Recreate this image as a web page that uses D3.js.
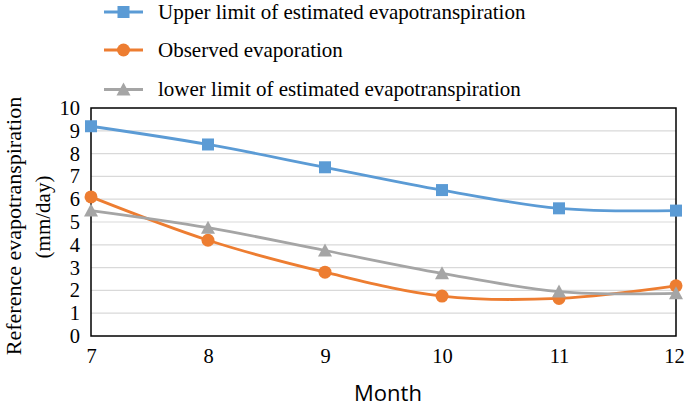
<!DOCTYPE html>
<html>
<head>
<meta charset="utf-8">
<script src="https://cdn.jsdelivr.net/npm/d3@7"></script>
<style>
  html, body { margin: 0; padding: 0; background: #fff; }
  svg { display: block; }
</style>
</head>
<body>
<svg id="chart" width="685" height="409"></svg>
<script>
const months = [7, 8, 9, 10, 11, 12];
const upperLimit = [9.2, 8.4, 7.4, 6.4, 5.6, 5.5];
const observed = [6.1, 4.2, 2.8, 1.75, 1.65, 2.2];
const lowerLimit = [5.5, 4.75, 3.75, 2.75, 1.95, 1.87];
const yTicks = [0, 1, 2, 3, 4, 5, 6, 7, 8, 9, 10];
const seriesNames = [
  "Upper limit of estimated evapotranspiration",
  "Observed evaporation",
  "lower limit of estimated evapotranspiration"
];
const seriesColors = ["#5B9BD5", "#ED7D31", "#A5A5A5"];
const seriesMarkers = ["square", "circle", "triangle"];
const xTitle = "Month";
const yTitle1 = "Reference evapotranspiration";
const yTitle2 = "(mm/day)";

const series = [upperLimit, observed, lowerLimit].map((vals, i) => ({
  name: seriesNames[i], color: seriesColors[i], marker: seriesMarkers[i],
  points: months.map((m, j) => ({ x: m, y: vals[j] }))
}));

const svg = d3.select("#chart");
const L = 91, R = 676, T = 108, B = 336;
const x = d3.scaleLinear().domain([7, 12]).range([L, R]);
const y = d3.scaleLinear().domain([0, 10]).range([B, T]);
const serif = "'Liberation Serif', 'Times New Roman', serif";

// gridlines
svg.append("g").selectAll("line").data(yTicks.filter(d => d > 0 && d < 10)).join("line")
  .attr("x1", L).attr("x2", R).attr("y1", d => y(d)).attr("y2", d => y(d))
  .attr("stroke", "#D9D9D9").attr("stroke-width", 1.2);

// border
svg.append("rect").attr("x", L).attr("y", T).attr("width", R - L).attr("height", B - T)
  .attr("fill", "none").attr("stroke", "#000").attr("stroke-width", 1.5);

// y axis
const yAxis = d3.axisLeft(y).tickValues(yTicks).tickFormat(d3.format("d")).tickSize(0).tickPadding(11);
const gy = svg.append("g").attr("transform", `translate(${L},0)`).call(yAxis);
gy.select(".domain").remove();
gy.selectAll("text").attr("font-family", serif).attr("font-size", 20.5).attr("fill", "#000");

// x axis
const xAxis = d3.axisBottom(x).tickValues(months).tickFormat(d3.format("d")).tickSize(0).tickPadding(12);
const gx = svg.append("g").attr("transform", `translate(0,${B})`).call(xAxis);
gx.select(".domain").remove();
gx.selectAll("text").attr("font-family", serif).attr("font-size", 20.5).attr("fill", "#000")
  .attr("dx", d => d === 12 ? -2 : 0);

// titles
svg.append("text").attr("x", 388).attr("y", 401).attr("text-anchor", "middle")
  .attr("font-family", "'Open Sans', sans-serif").attr("font-size", 22).attr("fill", "#000")
  .text(xTitle);
svg.append("text").attr("transform", "translate(21,226) rotate(-90)").attr("text-anchor", "middle")
  .attr("font-family", serif).attr("font-size", 22).attr("fill", "#000").text(yTitle1);
svg.append("text").attr("transform", "translate(50,217) rotate(-90)").attr("text-anchor", "middle")
  .attr("font-family", serif).attr("font-size", 21).attr("fill", "#000").text(yTitle2);

function drawMarker(g, type, cx, cy, color) {
  if (type === "square") {
    g.append("rect").attr("x", cx - 6).attr("y", cy - 6).attr("width", 12).attr("height", 12).attr("fill", color);
  } else if (type === "circle") {
    g.append("circle").attr("cx", cx).attr("cy", cy).attr("r", 6.5).attr("fill", color);
  } else {
    g.append("path").attr("d", `M${cx},${cy - 7}L${cx + 7},${cy + 6}L${cx - 7},${cy + 6}Z`).attr("fill", color);
  }
}

const line = d3.line().x(d => x(d.x)).y(d => y(d.y)).curve(d3.curveCatmullRom.alpha(0.5));

// lines
series.forEach(s => {
  svg.append("path").datum(s.points).attr("d", line)
    .attr("fill", "none").attr("stroke", s.color).attr("stroke-width", 2.8);
});
// markers
series.forEach(s => {
  const g = svg.append("g");
  s.points.forEach(p => drawMarker(g, s.marker, x(p.x), y(p.y), s.color));
});

// legend
const legendY = [12, 50, 89.5];
series.forEach((s, i) => {
  const g = svg.append("g");
  g.append("line").attr("x1", 104).attr("x2", 143).attr("y1", legendY[i]).attr("y2", legendY[i])
    .attr("stroke", s.color).attr("stroke-width", 2.8);
  drawMarker(g, s.marker, 123.5, legendY[i], s.color);
  g.append("text").attr("x", 158).attr("y", legendY[i] + 6.5)
    .attr("font-family", serif).attr("font-size", 21).attr("fill", "#000").text(s.name);
});
</script>
</body>
</html>
